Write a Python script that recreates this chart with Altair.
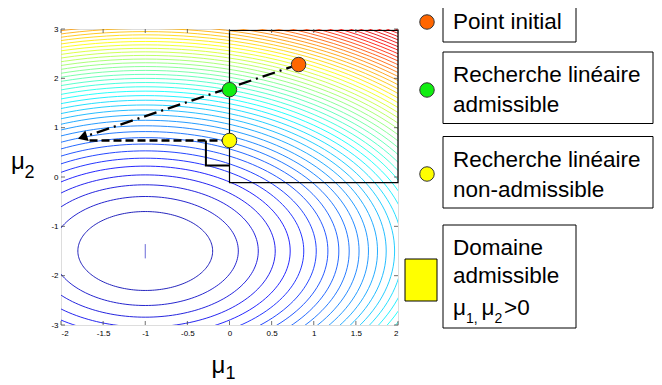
import numpy as np
import pandas as pd
import altair as alt

# ---------------- data ----------------
# objective: circular contours around the unconstrained minimum
centre_mu1 = -1.0
centre_mu2 = -1.5
level_first = 0.06
level_step = 0.58
level_count = 50          # contour levels k = 1..50
colour_top = 52           # level index mapped to the end of the colour map

x_ticks = [-2, -1.5, -1, -0.5, 0, 0.5, 1, 1.5, 2]
y_ticks = [-3, -2, -1, 0, 1, 2, 3]

# markers: initial point, admissible line search, non-admissible line search
pts_mu1 = [0.82, 0.0, 0.0]
pts_mu2 = [2.28, 1.77, 0.74]
pts_fill = ["#ff6600", "#11ee11", "#ffff00"]

# dash-dot search direction (initial point -> arrow)
dd_mu1 = [0.82, -1.75]
dd_mu2 = [2.28, 0.80]
arrow_mu1 = [-1.745]
arrow_mu2 = [0.805]

# dashed projected search
ds_mu1 = [0.0, -1.68]
ds_mu2 = [0.74, 0.74]

# solid step
st_mu1 = [-0.28, -0.28, 0.0]
st_mu2 = [0.74, 0.235, 0.235]

# admissible domain rectangle
dom_mu1 = [0.0, 2.0]
dom_mu2 = [-0.115, 2.97]

# tiny innermost contour
core_mu1 = [-1.0, -1.0]
core_mu2 = [-1.65, -1.36]

legend_texts = ["Point initial", "Recherche linéaire", "admissible",
                "Recherche linéaire", "non-admissible", "Domaine", "admissible"]

# ---------------- helpers ----------------
def jet(t):
    t = min(max(t, 0.0), 0.9)
    r = np.clip(1.5 - abs(4 * t - 3), 0, 1)
    g = np.clip(1.5 - abs(4 * t - 2), 0, 1)
    b = np.clip(1.5 - abs(4 * t - 1), 0, 1)
    return "#{:02x}{:02x}{:02x}".format(int(r * 255), int(g * 255), int(b * 255))

rows = []
ang = np.linspace(0, 2 * np.pi, 181)
for k in range(1, level_count + 1):
    rad = np.sqrt(level_first + level_step * k)
    col = jet(0.03 + k / colour_top)
    for i, a in enumerate(ang):
        rows.append((k, i, round(centre_mu1 + rad * np.cos(a), 4),
                     round(centre_mu2 + rad * np.sin(a), 4), col))
contours = pd.DataFrame(rows, columns=["k", "i", "mu1", "mu2", "col"])

FONT = "Liberation Sans"
W, H = 337, 296

sx = alt.Scale(domain=[-2, 2], nice=False, zero=False)
sy = alt.Scale(domain=[-3, 3], nice=False, zero=False)
ax = alt.Axis(values=x_ticks, title=None, ticks=False, domain=False, grid=False,
              labelExpr="toString(datum.value)", labelFontSize=8, labelPadding=4,
              labelColor="black", labelFont=FONT)
ay = alt.Axis(values=y_ticks, title=None, ticks=False, domain=False, grid=False,
              labelExpr="toString(datum.value)", labelFontSize=8, labelPadding=3,
              labelColor="black", labelFont=FONT)
X = lambda: alt.X("mu1:Q", scale=sx, axis=ax)
Y = lambda: alt.Y("mu2:Q", scale=sy, axis=ay)

one = pd.DataFrame({"a": [0]})

contour_layer = alt.Chart(contours).mark_line(clip=True, strokeWidth=1, strokeOpacity=0.85).encode(
    x=X(), y=Y(), detail="k:N", order="i:Q", color=alt.Color("col:N", scale=None))

core_layer = alt.Chart(pd.DataFrame({"mu1": core_mu1, "mu2": core_mu2})).mark_line(
    strokeWidth=1, color="#6a6ad8").encode(x=X(), y=Y())

dom_layer = alt.Chart(pd.DataFrame({"mu1": [dom_mu1[0]], "mu1b": [dom_mu1[1]],
                                    "mu2": [dom_mu2[0]], "mu2b": [dom_mu2[1]]})).mark_rect(
    fillOpacity=0, stroke="black", strokeWidth=1.2).encode(
    x=X(), x2="mu1b:Q", y=Y(), y2="mu2b:Q")

step_layer = alt.Chart(pd.DataFrame({"mu1": st_mu1, "mu2": st_mu2, "o": [0, 1, 2]})).mark_line(
    color="black", strokeWidth=2).encode(x=X(), y=Y(), order="o:Q")

dash_layer = alt.Chart(pd.DataFrame({"mu1": ds_mu1, "mu2": ds_mu2, "o": [0, 1]})).mark_line(
    color="black", strokeWidth=2.3, strokeDash=[8, 4]).encode(x=X(), y=Y(), order="o:Q")

dd_layer = alt.Chart(pd.DataFrame({"mu1": dd_mu1, "mu2": dd_mu2, "o": [0, 1]})).mark_line(
    color="black", strokeWidth=2.3, strokeDash=[13, 5, 2, 5]).encode(x=X(), y=Y(), order="o:Q")

arrow_layer = alt.Chart(pd.DataFrame({"mu1": arrow_mu1, "mu2": arrow_mu2})).mark_point(
    shape="triangle-left", filled=True, size=120, color="black", opacity=1, angle=342).encode(
    x=X(), y=Y())

pts_layer = alt.Chart(pd.DataFrame({"mu1": pts_mu1, "mu2": pts_mu2, "col": pts_fill})).mark_point(
    shape="circle", filled=True, size=210, stroke="#333333", strokeWidth=1, opacity=1).encode(
    x=X(), y=Y(), fill=alt.Fill("col:N", scale=None))

# inward ticks
xt = pd.DataFrame({"mu1": x_ticks})
yt = pd.DataFrame({"mu2": y_ticks})
tick_layers = [
    alt.Chart(xt).mark_tick(orient="vertical", size=4, thickness=1, color="#333").encode(
        x=X(), y=alt.value(H - 2)),
    alt.Chart(xt).mark_tick(orient="vertical", size=4, thickness=1, color="#333").encode(
        x=X(), y=alt.value(2)),
    alt.Chart(yt).mark_tick(orient="horizontal", size=4, thickness=1, color="#333").encode(
        y=Y(), x=alt.value(2)),
    alt.Chart(yt).mark_tick(orient="horizontal", size=4, thickness=1, color="#333").encode(
        y=Y(), x=alt.value(W - 2)),
]

def txt(s, x, y, size):
    return alt.Chart(one).mark_text(text=s, align="left", baseline="alphabetic",
                                    font=FONT, fontSize=size, color="black").encode(
        x=alt.value(x), y=alt.value(y))

def box(x1, x2, y1, y2, fill="white"):
    return alt.Chart(one).mark_rect(fill=fill, stroke="black", strokeWidth=1).encode(
        x=alt.value(x1), x2=alt.value(x2), y=alt.value(y1), y2=alt.value(y2))

def dot(x, y, fill):
    return alt.Chart(one).mark_point(shape="circle", filled=True, size=210, fill=fill,
                                     stroke="#333333", strokeWidth=1, opacity=1).encode(
        x=alt.value(x), y=alt.value(y))

TS = 22.5
TX = 392
legend_layers = [
    box(382, 515, -27.5, 13),
    box(382, 592, 23, 94.5),
    box(382, 592, 107.5, 179),
    box(382, 515, 196, 299),
    dot(366, -7, pts_fill[0]),
    dot(366, 61, pts_fill[1]),
    dot(366, 145, pts_fill[2]),
    box(344, 376, 230, 272, fill="#ffff00"),
    txt(legend_texts[0], TX, 0, TS),
    txt(legend_texts[1], TX, 52.5, TS),
    txt(legend_texts[2], TX, 82.5, TS),
    txt(legend_texts[3], TX, 137.5, TS),
    txt(legend_texts[4], TX, 167.5, TS),
    txt(legend_texts[5], TX, 226, TS),
    txt(legend_texts[6], TX, 254, TS),
    txt("μ", TX, 286, TS),
    txt("1,", TX + 13, 293.5, 14),
    txt("μ", TX + 28.5, 286, TS),
    txt("2", TX + 41.5, 293.5, 14),
    txt(">0", TX + 51, 286, TS),
    # axis titles
    txt("μ", 150.5, 344, 24),
    txt("1", 164.5, 350, 18),
    txt("μ", -50, 140, 24),
    txt("2", -36.5, 149, 18),
]

chart = alt.layer(
    contour_layer, core_layer, dom_layer, step_layer, dash_layer, dd_layer,
    arrow_layer, pts_layer, *tick_layers, *legend_layers
).properties(
    width=W, height=H,
    autosize=alt.AutoSizeParams(type="none"),
    padding={"left": 53, "top": 21, "right": 256, "bottom": 60},
).configure_view(stroke="#333333", strokeWidth=1).configure(background="white")

chart.save("out.html", embed_options={"renderer": "svg", "actions": False})
